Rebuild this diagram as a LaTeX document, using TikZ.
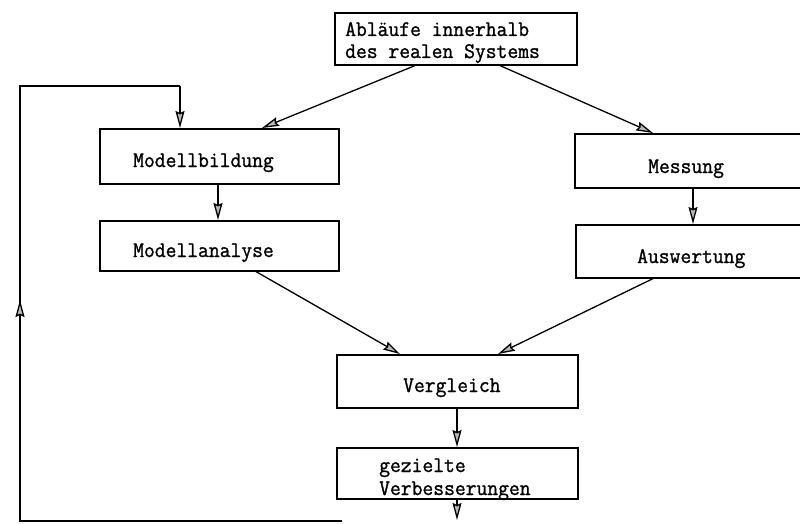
\documentclass[tikz,border=0pt]{standalone}
\usepackage{fontspec}
\newfontfamily\typew[FakeBold=1.2]{Latin Modern Mono}
\usetikzlibrary{arrows.meta}
\newcommand{\tw}[1]{\scalebox{1}[1.06]{#1}}
\begin{document}
\begin{tikzpicture}[x=1pt,y=-1pt,
  box/.style={draw, line width=1.6pt, inner sep=0pt, anchor=north west},
  txt/.style={anchor=base west, inner sep=0pt, font=\typew\fontsize{21}{24}\selectfont},
  conn/.style={line width=1.3pt, -{Stealth[length=17pt,width=9pt,inset=2pt,fill=gray!55]}},
  plain/.style={line width=1.3pt}]
\useasboundingbox (0,0) rectangle (800,524);
\clip (0,0) rectangle (800,524);
% boxes
\node[box, minimum width=242pt, minimum height=52pt] (top) at (334,12) {};
\node[box, minimum width=239pt, minimum height=55pt] (mb) at (99,128) {};
\node[box, minimum width=239pt, minimum height=50pt] (ma) at (99,220) {};
\node[box, minimum width=235pt, minimum height=54pt] (me) at (574,133) {};
\node[box, minimum width=235pt, minimum height=53pt] (au) at (575,224) {};
\node[box, minimum width=241pt, minimum height=53pt] (ve) at (336,354) {};
\node[box, minimum width=241pt, minimum height=51pt] (vb) at (336,447) {};
% texts
\node[txt] (t1) at (345,36) {\tw{Abläufe innerhalb}};
\node[txt] (t2) at (345,58) {\tw{des realen Systems}};
\node[txt] (tmb) at (133,167) {\tw{Modellbildung}};
\node[txt] (tma) at (133,257) {\tw{Modellanalyse}};
\node[txt] (tme) at (648,173) {\tw{Messung}};
\node[txt] (tau) at (637,263) {\tw{Auswertung}};
\node[txt] (tve) at (403,392) {\tw{Vergleich}};
\node[txt] (tvb1) at (379,472) {\tw{gezielte}};
\node[txt] (tvb2) at (379,495) {\tw{Verbesserungen}};
% connectors
\draw[conn] ([xshift=81pt]top.south west) -- ([xshift=163pt]mb.north west);
\draw[conn] ([xshift=166pt]top.south west) -- ([xshift=79pt]me.north west);
\draw[conn] ([xshift=119pt]mb.south west) -- ([xshift=119pt]ma.north west);
\draw[conn] ([xshift=119pt]me.south west) -- ([xshift=118pt]au.north west);
\draw[conn] ([xshift=157pt]ma.south west) -- ([xshift=64pt]ve.north west);
\draw[conn] ([xshift=78pt]au.south west) -- ([xshift=162pt]ve.north west);
\draw[conn] ([xshift=121pt]ve.south west) -- ([xshift=121pt]vb.north west);
\coordinate (out) at (457,520);
\draw[conn] ([xshift=121pt]vb.south west) -- (out);
% feedback loop
\coordinate (fb) at (342,521);
\coordinate (c1) at (20,521);
\coordinate (c2) at (20,86);
\coordinate (c3) at (180,86);
\coordinate (mid) at (20,300);
\draw[plain] (fb) -- (c1) -- (c2) -- (c3);
\draw[conn] (c3) -- ([xshift=81pt]mb.north west);
\draw[conn] (c1) -- (mid);
\end{tikzpicture}
\end{document}
